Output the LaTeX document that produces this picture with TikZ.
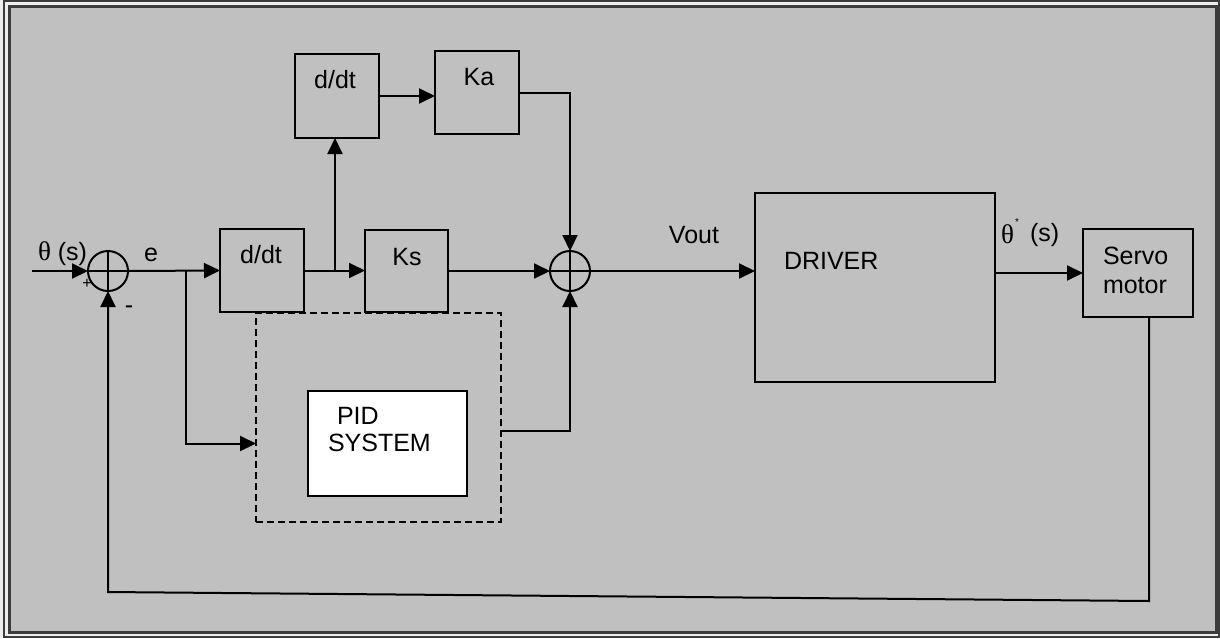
\documentclass[tikz,border=0pt]{standalone}
\usepackage{fontspec}
\setmainfont{Liberation Sans}
\newfontfamily\grk{Liberation Serif}
\usetikzlibrary{arrows.meta}
\definecolor{bg}{HTML}{C0C0C0}
\definecolor{framec}{HTML}{3C3C3C}
\definecolor{pagec}{HTML}{EEEEEE}
\begin{document}
\begin{tikzpicture}[x=1pt,y=-1pt,
  every node/.style={font=\fontsize{25}{29}\selectfont, inner sep=0pt, outer sep=0pt},
  blk/.style={draw, line width=2pt},
  sumj/.style={draw, circle, line width=2pt, fill=bg, minimum size=40pt},
  arr/.style={-{Triangle[length=16pt,width=15pt]}, line width=2pt},
  grktext/.style={font=\fontsize{27}{29}\grk}]
\useasboundingbox (0,0) rectangle (1220,638);
\fill[pagec] (0,0) rectangle (1220,638);
\draw[framec, line width=1.5pt] (4,1) rectangle (1219,637);
\draw[framec, line width=3pt, fill=bg] (9.5,6) rectangle (1216,632);

% texts under connectors
\node[font=\fontsize{16}{16}\selectfont] (tplus) at (87,284) {+};

% blocks
\node[blk, minimum width=84pt, minimum height=83pt] (dd1) at (262,270.5) {};
\node[blk, minimum width=84pt, minimum height=84pt] (dd2) at (337,96) {};
\node[blk, minimum width=84pt, minimum height=83pt] (ka) at (477,92.5) {};
\node[blk, minimum width=83pt, minimum height=82pt] (ks) at (406.5,271) {};
\node[blk, minimum width=240pt, minimum height=189pt] (driver) at (875,287.5) {};
\node[blk, minimum width=110pt, minimum height=88pt] (servo) at (1138,273) {};
\node[draw, line width=1.5pt, dash pattern=on 7pt off 4pt, minimum width=245pt, minimum height=209pt] (dash) at (378.5,417.5) {};
\node[blk, fill=white, minimum width=159pt, minimum height=105pt] (pid) at (387.5,443.5) {};

% summing junctions
\node[sumj] (sum1) at (108,271) {};
\draw[line width=1.5pt] (sum1.north) -- (sum1.south) (sum1.west) -- (sum1.east);
\node[sumj] (sum2) at (570,271) {};
\draw[line width=1.5pt] (sum2.north) -- (sum2.south) (sum2.west) -- (sum2.east);

% coordinates
\coordinate (in) at (32,271);
\coordinate (b1) at (186,271);
\coordinate (b2) at (335,270.5);
\coordinate (f1) at (1149,601);
\coordinate (f2) at (108,592);

% connectors
\draw[arr] (in) -- (sum1.west);
\draw[arr] (sum1.east) -- (dd1.west);
\draw[arr] (b1) |- (dash.west |- pid.center);
\draw[arr] (dd1.east) -- (dd1.east -| ks.west);
\draw[arr] (b2) -- (b2 |- dd2.south);
\draw[arr] (dd2.east) -- (dd2.east -| ka.west);
\draw[arr] (ka.east) -| (sum2.north);
\draw[arr] (ks.east) -- (sum2.west);
\draw[arr] (dash.east |- 0,431) -| (sum2.south);
\draw[arr] (sum2.east) -- (driver.west |- sum2.east);
\draw[arr] (driver.east |- servo.west) -- (servo.west);
\draw[arr] (servo.south -| f1) -- (f1) -- (f2) -- (sum1.south);

% labels
\node[anchor=base west] (tin) at (38,260) {{\fontsize{27}{29}\grk θ} (s)};
\node[anchor=base] (te) at (151,261) {e};
\node (tminus) at (129,310) {-};
\node[anchor=base] (tdd1) at (261,263) {d/dt};
\node[anchor=base] (tdd2) at (335,88) {d/dt};
\node[anchor=base] (tka) at (479,85) {Ka};
\node[anchor=base] (tks) at (407,265) {Ks};
\node[anchor=base] (tvout) at (694,243) {Vout};
\node[anchor=base west] (tdrv) at (784,269) {DRIVER};
\node[anchor=base west] (tpid1) at (337,424) {PID};
\node[anchor=base west] (tpid2) at (328,451) {SYSTEM};
\node[anchor=base west] (tsv1) at (1103,264) {Servo};
\node[anchor=base west] (tsv2) at (1103,293) {motor};
\node[anchor=base west, grktext] (tout) at (1001,243) {θ};
\node[font=\fontsize{10}{10}\selectfont] (tstar) at (1017,222) {*};
\node[anchor=base west] (tout2) at (1030,241) {(s)};
\end{tikzpicture}
\end{document}
